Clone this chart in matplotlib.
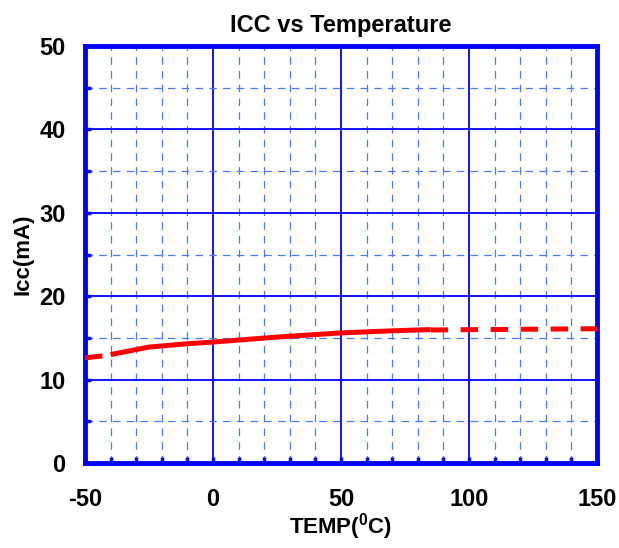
import numpy as np
import matplotlib.pyplot as plt
from matplotlib.ticker import MultipleLocator

plt.rcParams['font.family'] = ['Liberation Sans', 'DejaVu Sans']
plt.rcParams['font.weight'] = 'bold'
plt.rcParams['axes.unicode_minus'] = False

# measured curve (solid)
temp = [-40, -25, -10, 0, 25, 50, 70, 85]
icc = [13.0, 13.9, 14.3, 14.5, 15.1, 15.6, 15.85, 16.0]
# extrapolated parts (dashed)
temp_lo = [-50, -43]
icc_lo = [12.6, 12.85]
temp_hi = [85, 150]
icc_hi = [15.95, 16.1]

blue = '#0000ff'
fig = plt.figure(figsize=(6.19, 5.48), dpi=100)
ax = fig.add_axes([85/619, 1-463/548, 512/619, 417/548])

ax.set_xlim(-50, 150)
ax.set_ylim(0, 50)
ax.xaxis.set_major_locator(MultipleLocator(50))
ax.xaxis.set_minor_locator(MultipleLocator(10))
ax.yaxis.set_major_locator(MultipleLocator(10))
ax.yaxis.set_minor_locator(MultipleLocator(5))

ax.grid(which='major', color=blue, lw=1.3, ls='-')
ax.grid(which='minor', color='#4a78ff', lw=0.9, ls=(0, (6, 5)))
ax.set_axisbelow(True)

for s in ax.spines.values():
    s.set_color(blue)
    s.set_linewidth(3.5)

ax.tick_params(which='both', direction='in', color=blue, width=2.5, labelsize=17)
ax.tick_params(which='major', length=4)
ax.tick_params(which='minor', length=4)
ax.tick_params(axis='x', pad=18)
ax.tick_params(axis='y', pad=14)
for lab in ax.get_xticklabels() + ax.get_yticklabels():
    lab.set_fontweight('bold')

ax.plot(temp, icc, color='red', lw=3.6, solid_capstyle='butt', zorder=5)
ax.plot(temp_lo, icc_lo, color='red', lw=3.6, ls=(0, (3.5, 2.5)), zorder=5)
ax.plot(temp_hi, icc_hi, color='red', lw=3.6, ls=(0, (3.5, 2.5)), zorder=5)

ax.set_title('ICC vs Temperature', fontsize=17, fontweight='bold', pad=10)
ax.set_xlabel('TEMP($\\mathregular{^0}$C)', fontsize=16, fontweight='bold', labelpad=0)
ax.set_ylabel('Icc(mA)', fontsize=16, fontweight='bold', labelpad=4)

fig.savefig('out.png', dpi=100)
